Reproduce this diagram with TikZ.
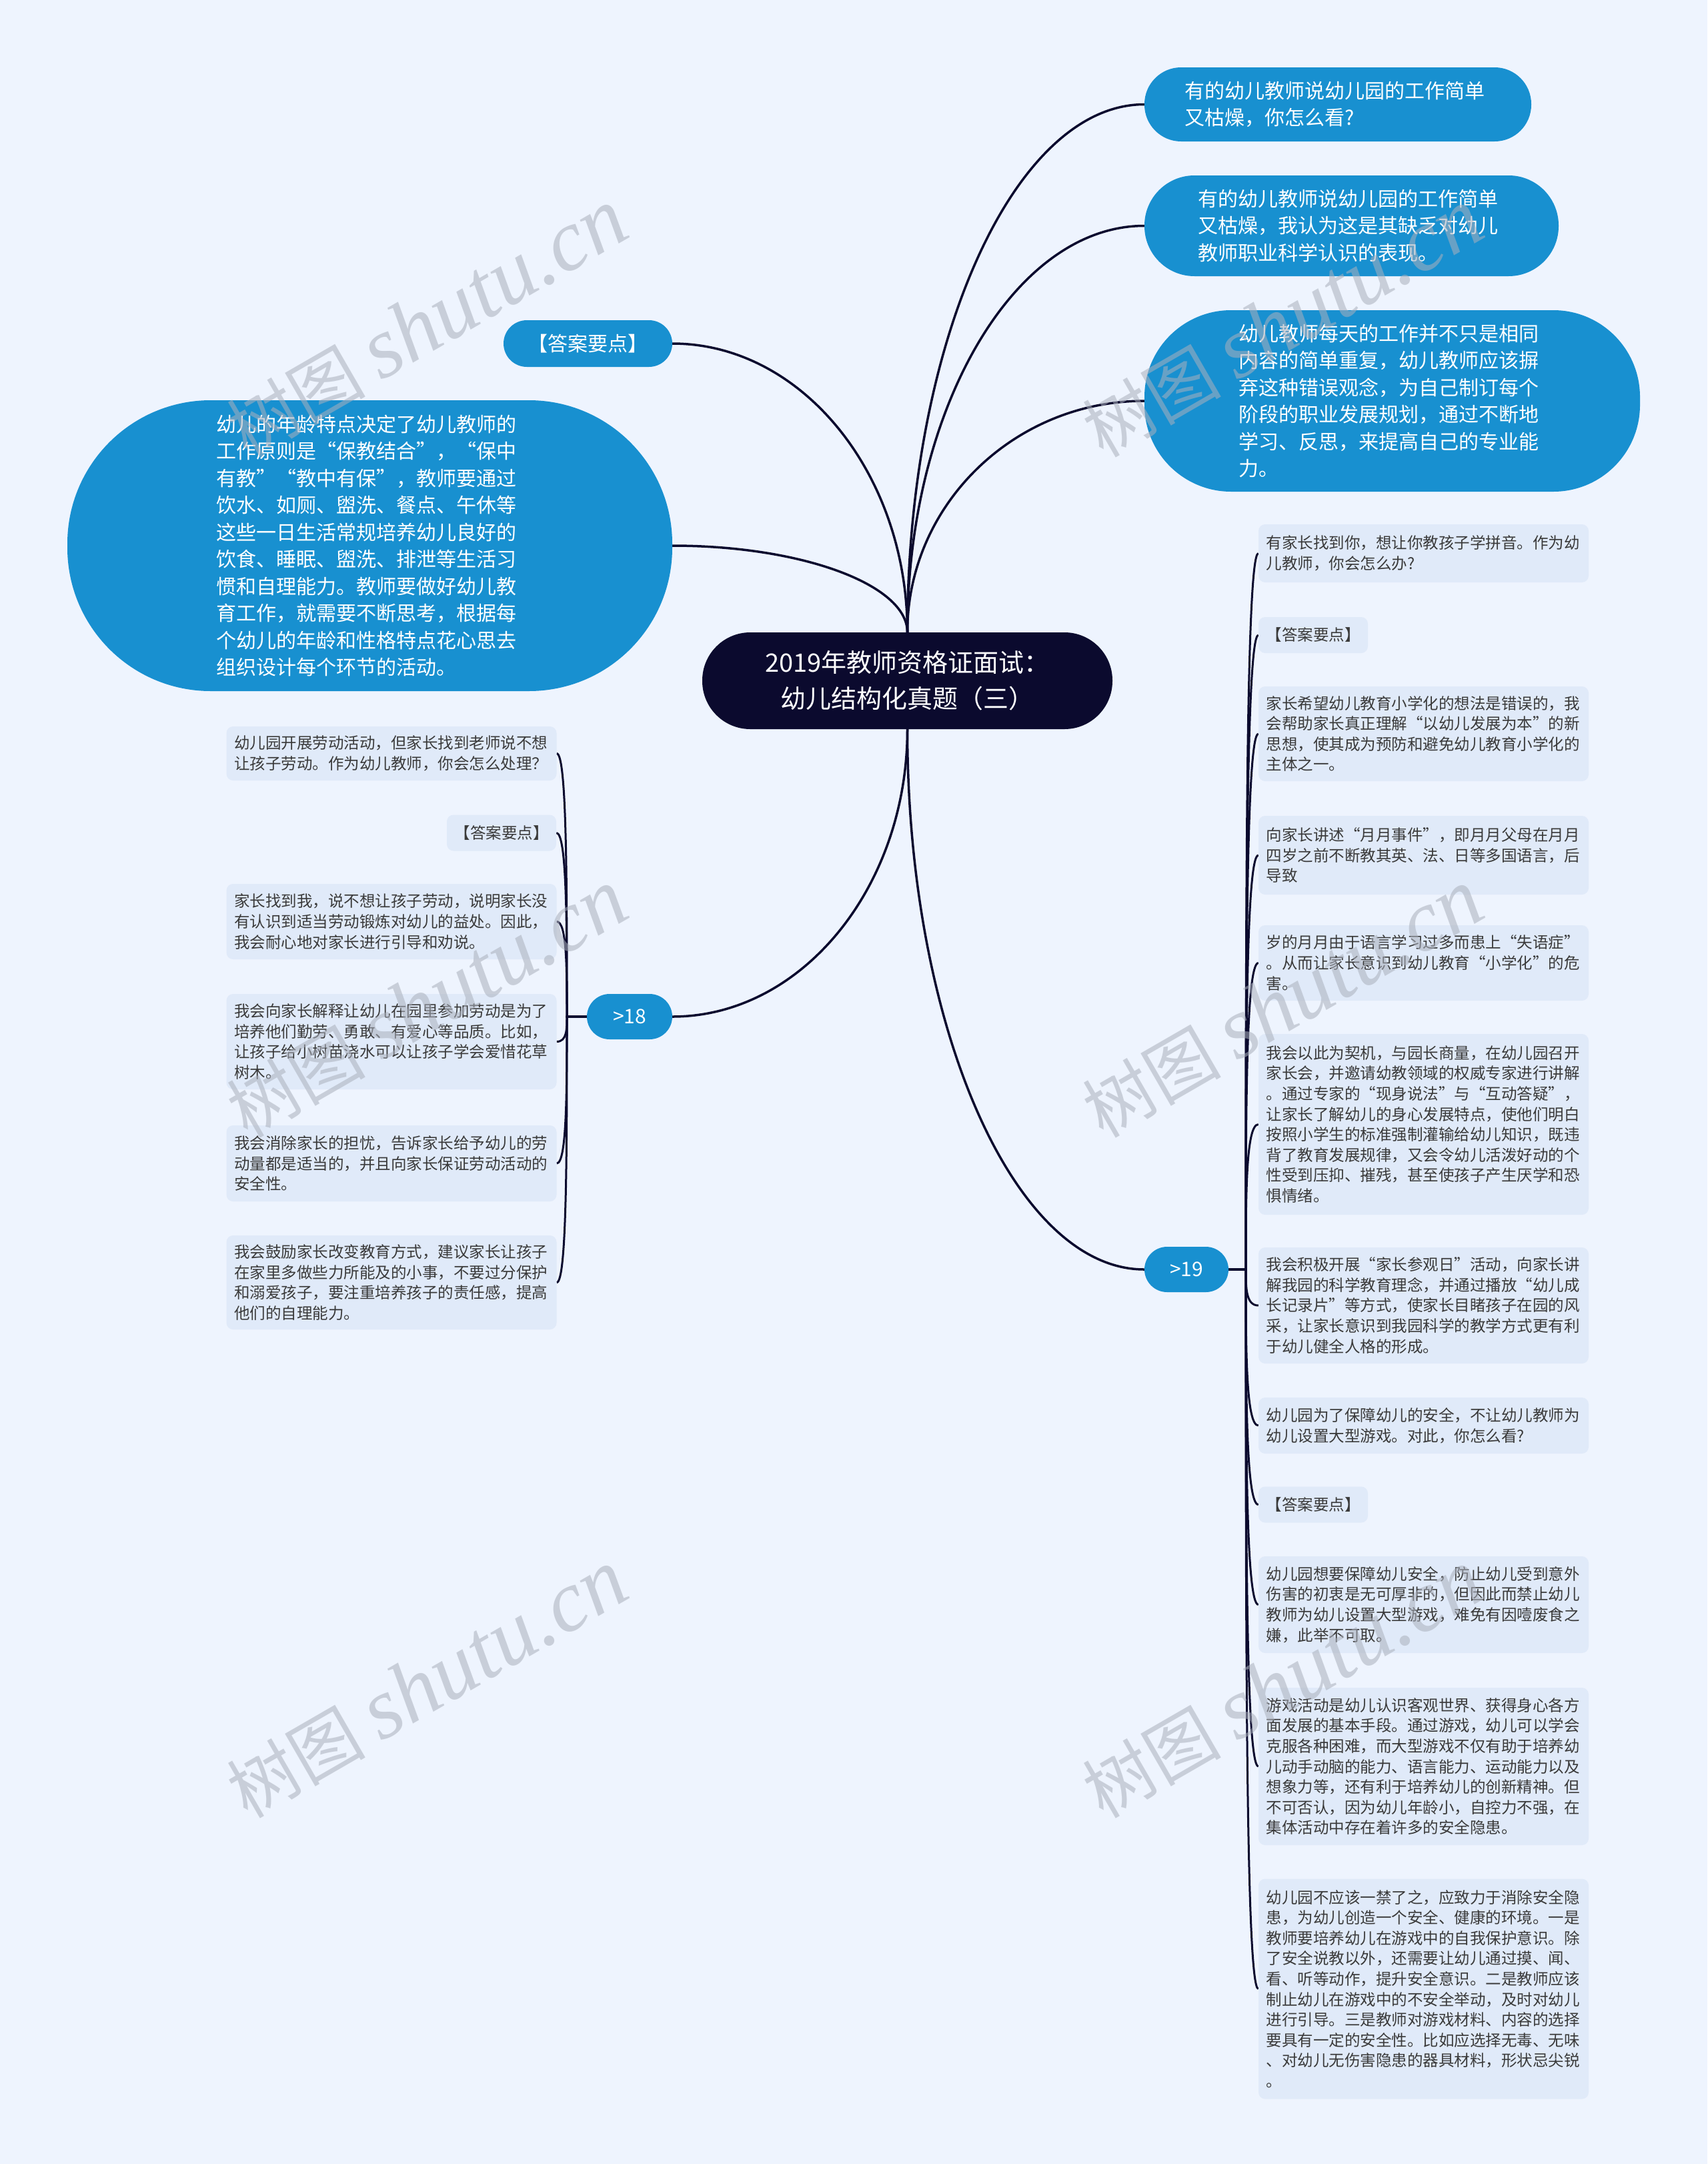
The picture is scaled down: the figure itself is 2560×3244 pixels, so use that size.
\documentclass[tikz,border=0pt]{standalone}
\usepackage{fontspec}
\setmainfont{Noto Sans CJK SC}
\newfontfamily\wmlatin{Liberation Serif}
\usetikzlibrary{calc}
\pgfdeclarelayer{back}
\pgfdeclarelayer{lines}
\pgfdeclarelayer{front}
\pgfsetlayers{back,lines,main,front}
\definecolor{bgc}{HTML}{EEF4FE}
\definecolor{navy}{HTML}{0B0A2E}
\definecolor{blueone}{HTML}{1890D0}
\definecolor{leaffill}{HTML}{E0EAF9}
\definecolor{leaftext}{HTML}{3A3A3A}
\definecolor{wmgray}{HTML}{AAB0BC}
\tikzset{
  rootbox/.style={fill=navy, text=white, rounded corners=72pt, inner sep=0pt, minimum width=615pt, minimum height=145pt, align=center, font=\fontsize{38}{54}\selectfont},
  bluebox/.style={fill=blueone, text=white, inner sep=0pt, align=left, font=\fontsize{30}{40.5}\selectfont},
  leafbox/.style={fill=leaffill, text=leaftext, rounded corners=10pt, inner sep=0pt, align=left, text width=472pt, minimum width=495pt, font=\fontsize{23.5}{30.6}\selectfont},
  tagbox/.style={fill=leaffill, text=leaftext, rounded corners=10pt, inner sep=0pt, minimum width=164pt, minimum height=54pt, font=\fontsize{23.5}{30.6}\selectfont},
  conn/.style={draw=navy, line width=3pt},
  rconn/.style={draw=navy, line width=3.5pt},
  wmark/.style={text=wmgray, text opacity=0.55, rotate=30, inner sep=0pt}
}
\begin{document}
\begin{tikzpicture}[x=1pt,y=-1pt]
\begin{pgfonlayer}{back}
\fill[bgc] (0,0) rectangle (2560,3244);
\end{pgfonlayer}
\useasboundingbox (0,0) rectangle (2560,3244);

% root
\node[rootbox] (root) at (1360.5,1020.5) {2019年教师资格证面试：\\幼儿结构化真题（三）};

% top right
\node[bluebox, rounded corners=55pt, minimum width=580pt, minimum height=111pt, text width=460pt] (tr1) at (2006,156.5) {有的幼儿教师说幼儿园的工作简单\\又枯燥，你怎么看?};
\node[bluebox, rounded corners=75pt, minimum width=621pt, minimum height=151pt, text width=460pt] (tr2) at (2026.5,338.5) {有的幼儿教师说幼儿园的工作简单\\又枯燥，我认为这是其缺乏对幼儿\\教师职业科学认识的表现。};
\node[bluebox, rounded corners=130pt, minimum width=743pt, minimum height=272pt, text width=460pt] (tr3) at (2087.5,601) {幼儿教师每天的工作并不只是相同\\内容的简单重复，幼儿教师应该摒\\弃这种错误观念，为自己制订每个\\阶段的职业发展规划，通过不断地\\学习、反思，来提高自己的专业能\\力。};

% top left
\node[bluebox, rounded corners=35pt, minimum width=253pt, minimum height=70pt, align=center] (tla) at (881.5,515) {【答案要点】};
\node[bluebox, rounded corners=215pt, minimum width=907pt, minimum height=436pt, text width=460pt] (bigl) at (554.5,818) {幼儿的年龄特点决定了幼儿教师的\\工作原则是“保教结合”，“保中\\有教”“教中有保”，教师要通过\\饮水、如厕、盥洗、餐点、午休等\\这些一日生活常规培养幼儿良好的\\饮食、睡眠、盥洗、排泄等生活习\\惯和自理能力。教师要做好幼儿教\\育工作，就需要不断思考，根据每\\个幼儿的年龄和性格特点花心思去\\组织设计每个环节的活动。};

% branch nodes
\node[bluebox, rounded corners=34pt, minimum width=128pt, minimum height=68pt, align=center] (n18) at (944,1524) {>18};
\node[bluebox, rounded corners=34pt, minimum width=126pt, minimum height=68pt, align=center] (n19) at (1779,1903) {>19};

% left leaves
\node[leafbox, minimum height=81pt] (l1) at (587,1129.5) {幼儿园开展劳动活动，但家长找到老师说不想\\让孩子劳动。作为幼儿教师，你会怎么处理？};
\node[tagbox] (l2) at (752,1248.5) {【答案要点】};
\node[leafbox, minimum height=113pt] (l3) at (587,1381.5) {家长找到我，说不想让孩子劳动，说明家长没\\有认识到适当劳动锻炼对幼儿的益处。因此，\\我会耐心地对家长进行引导和劝说。};
\node[leafbox, minimum height=143pt] (l4) at (587,1561.5) {我会向家长解释让幼儿在园里参加劳动是为了\\培养他们勤劳、勇敢、有爱心等品质。比如，\\让孩子给小树苗浇水可以让孩子学会爱惜花草\\树木。};
\node[leafbox, minimum height=114pt] (l5) at (587,1744) {我会消除家长的担忧，告诉家长给予幼儿的劳\\动量都是适当的，并且向家长保证劳动活动的\\安全性。};
\node[leafbox, minimum height=141pt] (l6) at (587,1922.5) {我会鼓励家长改变教育方式，建议家长让孩子\\在家里多做些力所能及的小事，不要过分保护\\和溺爱孩子，要注重培养孩子的责任感，提高\\他们的自理能力。};

% right leaves
\node[leafbox, minimum height=87pt] (r1) at (2134.5,829.5) {有家长找到你，想让你教孩子学拼音。作为幼\\儿教师，你会怎么办?};
\node[tagbox] (r2) at (1969,952) {【答案要点】};
\node[leafbox, minimum height=142pt] (r3) at (2134.5,1100) {家长希望幼儿教育小学化的想法是错误的，我\\会帮助家长真正理解“以幼儿发展为本”的新\\思想，使其成为预防和避免幼儿教育小学化的\\主体之一。};
\node[leafbox, minimum height=118pt] (r4) at (2134.5,1282) {向家长讲述“月月事件”，即月月父母在月月\\四岁之前不断教其英、法、日等多国语言，后\\导致};
\node[leafbox, minimum height=113pt] (r5) at (2134.5,1443.5) {岁的月月由于语言学习过多而患上“失语症”\\。从而让家长意识到幼儿教育“小学化”的危\\害。};
\node[leafbox, minimum height=271pt] (r6) at (2134.5,1685.5) {我会以此为契机，与园长商量，在幼儿园召开\\家长会，并邀请幼教领域的权威专家进行讲解\\。通过专家的“现身说法”与“互动答疑”，\\让家长了解幼儿的身心发展特点，使他们明白\\按照小学生的标准强制灌输给幼儿知识，既违\\背了教育发展规律，又会令幼儿活泼好动的个\\性受到压抑、摧残，甚至使孩子产生厌学和恐\\惧情绪。};
\node[leafbox, minimum height=174pt] (r7) at (2134.5,1957) {我会积极开展“家长参观日”活动，向家长讲\\解我园的科学教育理念，并通过播放“幼儿成\\长记录片”等方式，使家长目睹孩子在园的风\\采，让家长意识到我园科学的教学方式更有利\\于幼儿健全人格的形成。};
\node[leafbox, minimum height=84pt] (r8) at (2134.5,2137) {幼儿园为了保障幼儿的安全，不让幼儿教师为\\幼儿设置大型游戏。对此，你怎么看?};
\node[tagbox] (r9) at (1969,2255.5) {【答案要点】};
\node[leafbox, minimum height=145pt] (r10) at (2134.5,2405.5) {幼儿园想要保障幼儿安全，防止幼儿受到意外\\伤害的初衷是无可厚非的，但因此而禁止幼儿\\教师为幼儿设置大型游戏，难免有因噎废食之\\嫌，此举不可取。};
\node[leafbox, minimum height=236pt] (r11) at (2134.5,2648) {游戏活动是幼儿认识客观世界、获得身心各方\\面发展的基本手段。通过游戏，幼儿可以学会\\克服各种困难，而大型游戏不仅有助于培养幼\\儿动手动脑的能力、语言能力、运动能力以及\\想象力等，还有利于培养幼儿的创新精神。但\\不可否认，因为幼儿年龄小，自控力不强，在\\集体活动中存在着许多的安全隐患。};
\node[leafbox, minimum height=330pt] (r12) at (2134.5,2981.5) {幼儿园不应该一禁了之，应致力于消除安全隐\\患，为幼儿创造一个安全、健康的环境。一是\\教师要培养幼儿在游戏中的自我保护意识。除\\了安全说教以外，还需要让幼儿通过摸、闻、\\看、听等动作，提升安全意识。二是教师应该\\制止幼儿在游戏中的不安全举动，及时对幼儿\\进行引导。三是教师对游戏材料、内容的选择\\要具有一定的安全性。比如应选择无毒、无味\\、对幼儿无伤害隐患的器具材料，形状忌尖锐\\。};

\coordinate (s18) at (850,1524);
\coordinate (s19) at (1868,1903);

\begin{pgfonlayer}{lines}
% root top connectors
\foreach \t in {tr1,tr2,tr3}
  \draw[rconn] (root.north) .. controls ($(root.north)!0.55!(root.north|-\t.west)$) and ($(\t.west)!0.55!(root.north|-\t.west)$) .. (\t.west);
\foreach \t in {tla,bigl}
  \draw[rconn] (root.north) .. controls ($(root.north)!0.55!(root.north|-\t.east)$) and ($(\t.east)!0.55!(root.north|-\t.east)$) .. (\t.east);
% root bottom connectors
\draw[rconn] (root.south) .. controls ($(root.south)!0.55!(root.south|-n18.east)$) and ($(n18.east)!0.55!(root.south|-n18.east)$) .. (n18.east);
\draw[rconn] (root.south) .. controls ($(root.south)!0.55!(root.south|-n19.west)$) and ($(n19.west)!0.55!(root.south|-n19.west)$) .. (n19.west);
% left leaves
\foreach \t in {l1,l2,l3,l4,l5,l6}
  \draw[conn] (n18.west) -- (s18) .. controls ($(s18)!0.5!(s18|-\t.east)$) and (s18|-\t.east) .. (\t.east);
% right leaves
\foreach \t in {r1,r2,r3,r4,r5,r6,r7,r8,r9,r10,r11,r12}
  \draw[conn] (n19.east) -- (s19) .. controls ($(s19)!0.5!(s19|-\t.west)$) and (s19|-\t.west) .. (\t.west);
\end{pgfonlayer}

% watermarks
\begin{pgfonlayer}{front}
\foreach \wx/\wy in {640/485, 1923/485, 640/1505, 1923/1505, 640/2525, 1923/2525}
  \node[wmark] at (\wx,\wy) {\fontsize{104}{104}\selectfont 树图 {\wmlatin\itshape\fontsize{130}{130}\selectfont shutu.cn}};
\end{pgfonlayer}
\end{tikzpicture}
\end{document}
